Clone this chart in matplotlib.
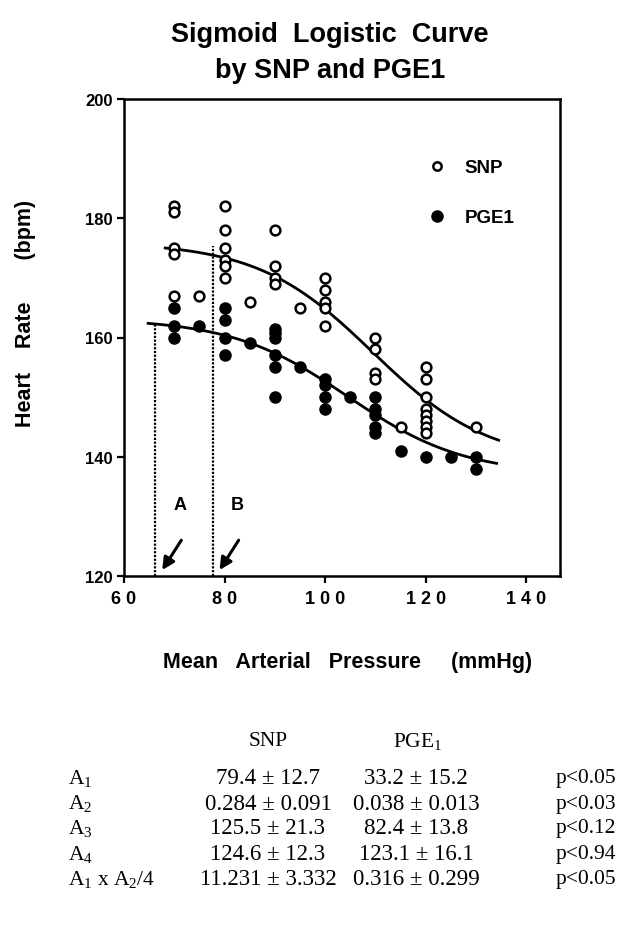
import numpy as np
import matplotlib
matplotlib.use("Agg")
import matplotlib.pyplot as plt
from matplotlib.lines import Line2D

plt.rcParams['font.family'] = ['Liberation Sans', 'DejaVu Sans']
plt.rcParams['mathtext.fontset'] = 'custom'
plt.rcParams['mathtext.rm'] = 'Liberation Serif'
plt.rcParams['mathtext.it'] = 'Liberation Serif'

# ---- data ----
snp_x = [70, 70, 70, 70, 70, 75, 80, 80, 80, 80, 80, 80, 85, 90, 90, 90, 90, 95,
         100, 100, 100, 100, 100, 110, 110, 110, 110, 115,
         120, 120, 120, 120, 120, 120, 120, 120, 130]
snp_y = [182, 181, 175, 174, 167, 167, 182, 178, 175, 173, 172, 170, 166, 178, 172, 170, 169, 165,
         170, 168, 166, 165, 162, 160, 158, 154, 153, 145,
         155, 153, 150, 148, 147, 146, 145, 144, 145]

pge_x = [70, 70, 70, 75, 80, 80, 80, 80, 85, 90, 90, 90, 90, 90, 90, 95,
         100, 100, 100, 100, 105, 110, 110, 110, 110, 110, 115, 120, 125, 130, 130]
pge_y = [165, 162, 160, 162, 165, 163, 160, 157, 159, 161.5, 160.7, 160, 157, 155, 150, 155,
         153, 152, 150, 148, 150, 150, 148, 147, 145, 144, 141, 140, 140, 140, 138]

# fitted logistic curves: top, bottom, midpoint, scale, x-range
snp_fit = dict(top=176.0, bottom=139.0, x0=109.5, s=11.5, xmin=68.2, xmax=134.5)
pge_fit = dict(top=163.2, bottom=137.0, x0=104.5, s=11.6, xmin=64.8, xmax=134.1)

# dotted markers A and B (x position, top HR)
mark_x = [66.2, 77.6]
mark_top = [162.3, 175.4]
mark_labels = ['A', 'B']

x_ticks = [60, 80, 100, 120, 140]
x_ticklabels = ['6 0', '8 0', '1 0 0', '1 2 0', '1 4 0']
y_ticks = [120, 140, 160, 180, 200]

table_cols = ['SNP', 'PGE$_1$']
table_rows = ['A$_1$', 'A$_2$', 'A$_3$', 'A$_4$', 'A$_1$ x A$_2$/4']
snp_vals = ['79.4 ± 12.7', '0.284 ± 0.091', '125.5 ± 21.3', '124.6 ± 12.3', '11.231 ± 3.332']
pge_vals = ['33.2 ± 15.2', '0.038 ± 0.013', '82.4 ± 13.8', '123.1 ± 16.1', '0.316 ± 0.299']
p_vals = ['p<0.05', 'p<0.03', 'p<0.12', 'p<0.94', 'p<0.05']

W, H = 623, 928
fig = plt.figure(figsize=(W / 100, H / 100), dpi=100)
ax_left, ax_right, ax_top, ax_bot = 124, 560, 100, 577
ax = fig.add_axes([ax_left / W, 1 - ax_bot / H, (ax_right - ax_left) / W, (ax_bot - ax_top) / H])
ax.set_xlim(60, 146.7)
ax.set_ylim(120, 200)


def logistic(x, p):
    return p['bottom'] + (p['top'] - p['bottom']) / (1 + np.exp((x - p['x0']) / p['s']))


for p in (snp_fit, pge_fit):
    xx = np.linspace(p['xmin'], p['xmax'], 200)
    ax.plot(xx, logistic(xx, p), color='black', lw=2.0, zorder=2)

ax.plot(snp_x, snp_y, linestyle='none', marker='o', ms=7, mfc='white', mec='black', mew=1.8, zorder=3)
ax.plot(pge_x, pge_y, linestyle='none', marker='o', ms=8, mfc='black', mec='black', zorder=4)

for xm, yt, lab in zip(mark_x, mark_top, mark_labels):
    ax.plot([xm, xm], [120, yt], color='black', lw=1.6, linestyle=(0, (1, 0.7)), zorder=1)
    ax.text(xm + 4.9, 132.0, lab, fontsize=13, fontweight='bold', ha='center', va='center')
    ax.annotate('', xy=(xm + 1.4, 121.0), xytext=(xm + 5.2, 126.0),
                arrowprops=dict(arrowstyle='-|>', lw=2.2, color='black', mutation_scale=18,
                                shrinkA=0, shrinkB=0))

ax.set_xticks(x_ticks)
ax.set_xticklabels(x_ticklabels, fontsize=13, fontweight='bold')
ax.set_yticks(y_ticks)
ax.set_yticklabels([str(v) for v in y_ticks], fontsize=12, fontweight='bold')
ax.tick_params(direction='out', length=5, width=1.6, pad=3)
ax.tick_params(axis='x', pad=5)
for sp in ax.spines.values():
    sp.set_linewidth(1.8)

ax.set_xlabel('Mean   Arterial   Pressure     (mmHg)', fontsize=15.5, fontweight='bold')
ax.xaxis.set_label_coords((348 - ax_left) / (ax_right - ax_left), (ax_bot - 663) / (ax_bot - ax_top))
ax.set_ylabel('Heart    Rate       (bpm)', fontsize=15.5, fontweight='bold')
ax.yaxis.set_label_coords((26 - ax_left) / (ax_right - ax_left), (ax_bot - 313) / (ax_bot - ax_top))
ax.xaxis.label.set_va('center')
ax.yaxis.label.set_va('center')

handles = [Line2D([], [], linestyle='none', marker='o', ms=6, mfc='white', mec='black', mew=1.8),
           Line2D([], [], linestyle='none', marker='o', ms=8, mfc='black', mec='black')]
ax.legend(handles, ['SNP', 'PGE1'], loc='upper left',
          bbox_to_anchor=((429 - ax_left) / (ax_right - ax_left), (ax_bot - 160) / (ax_bot - ax_top)),
          frameon=False, borderpad=0, borderaxespad=0, handlelength=0.9, handletextpad=1.0,
          labelspacing=1.75, numpoints=1, prop=dict(size=13.5, weight='bold'))

fig.text(330 / W, 1 - 35 / H, 'Sigmoid  Logistic  Curve', fontsize=19.5, fontweight='bold',
         ha='center', va='center')
fig.text(330 / W, 1 - 71 / H, 'by SNP and PGE1', fontsize=19.5, fontweight='bold',
         ha='center', va='center')

# ---- parameter table ----
serif = ['Liberation Serif', 'DejaVu Serif']
tfs = 16.5
fig.text(268 / W, 1 - 742 / H, table_cols[0], fontsize=tfs - 1, family=serif, ha='center', va='center')
fig.text(418 / W, 1 - 742 / H, table_cols[1], fontsize=tfs - 1, family=serif, ha='center', va='center')
row_y = [779, 804, 829, 855, 880]
for ry, lab, sv, pv, pp in zip(row_y, table_rows, snp_vals, pge_vals, p_vals):
    fig.text(68 / W, 1 - ry / H, lab, fontsize=tfs - 1, family=serif, ha='left', va='center')
    fig.text(268 / W, 1 - ry / H, sv, fontsize=tfs, family=serif, ha='center', va='center')
    fig.text(416 / W, 1 - ry / H, pv, fontsize=tfs, family=serif, ha='center', va='center')
    fig.text(556 / W, 1 - ry / H, pp, fontsize=tfs - 1, family=serif, ha='left', va='center')

fig.savefig('out.png', dpi=100, facecolor='white')
